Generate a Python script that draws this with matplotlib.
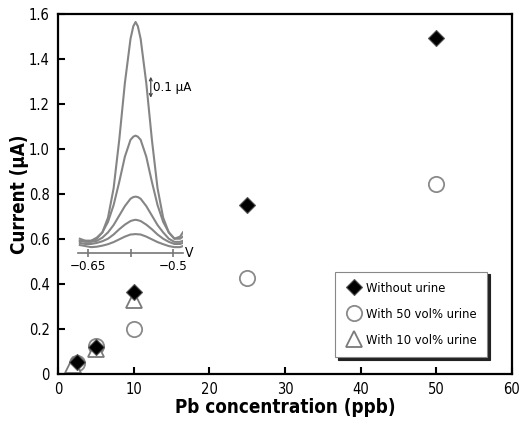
import numpy as np
import matplotlib
matplotlib.use("Agg")
import matplotlib.pyplot as plt
import matplotlib.font_manager as fm

# pick a narrow font if one is installed (reference uses a condensed face)
fonts = fm.fontManager.ttflist
names = {f.name for f in fonts}
stretch = 'normal'
if 'Liberation Sans Narrow' in names:
    family = 'Liberation Sans Narrow'
elif any(f.name == 'DejaVu Sans' and f.stretch in ('condensed', 'semi-condensed') for f in fonts):
    family = 'DejaVu Sans'
    stretch = 'condensed'
elif 'Roboto Condensed' in names:
    family = 'Roboto Condensed'
else:
    family = 'Liberation Sans'
plt.rcParams['font.family'] = [family, 'DejaVu Sans']
plt.rcParams['font.stretch'] = stretch

# main data (Pb concentration, ppb vs current, uA)
x_without = [2.5, 5, 10, 25, 50]
y_without = [0.053, 0.12, 0.365, 0.75, 1.493]
x_urine50 = [2.5, 5, 10, 25, 50]
y_urine50 = [0.05, 0.125, 0.20, 0.427, 0.845]
x_urine10 = [2, 5, 10]
y_urine10 = [0.04, 0.11, 0.33]

# inset voltammograms (V vs uA)
volts = [-0.665, -0.655, -0.645, -0.635, -0.625, -0.615, -0.605, -0.595, -0.585, -0.575,
         -0.570, -0.566, -0.562, -0.557, -0.547, -0.537, -0.527, -0.517, -0.507, -0.497,
         -0.487, -0.482]
curve1 = [0.03, 0.02, 0.02, 0.03, 0.06, 0.13, 0.27, 0.50, 0.77, 0.98,
          1.04, 1.06, 1.04, 0.98, 0.77, 0.50, 0.27, 0.13, 0.06, 0.03,
          0.03, 0.04]
curve2 = [0.02, 0.02, 0.02, 0.035, 0.06, 0.11, 0.19, 0.30, 0.42, 0.50,
          0.515, 0.52, 0.515, 0.50, 0.42, 0.30, 0.19, 0.11, 0.06, 0.03,
          0.04, 0.06]
curve3 = [0.02, 0.015, 0.015, 0.02, 0.035, 0.06, 0.095, 0.14, 0.185, 0.22,
          0.228, 0.23, 0.228, 0.22, 0.185, 0.14, 0.095, 0.06, 0.03, 0.015,
          0.015, 0.02]
curve4 = [0.01, 0.005, 0.005, 0.01, 0.018, 0.03, 0.05, 0.075, 0.097, 0.114,
          0.118, 0.12, 0.118, 0.114, 0.097, 0.075, 0.05, 0.03, 0.015, 0.005,
          0.005, 0.01]
curve5 = [0.0, -0.005, -0.01, -0.008, -0.003, 0.004, 0.014, 0.027, 0.04, 0.05,
          0.051, 0.052, 0.051, 0.05, 0.04, 0.027, 0.014, 0.004, -0.005, -0.01,
          -0.01, -0.005]

fig = plt.figure(figsize=(5.21, 4.34), dpi=100)
ax = fig.add_axes([0.1113, 0.138, 0.8714, 0.830])

ax.plot(x_urine50, y_urine50, 'o', ms=11, mfc='white', mec='#8a8a8a', mew=1.3,
        ls='none', label='With 50 vol% urine')
ax.plot(x_urine10, y_urine10, '^', ms=12, mfc='white', mec='#7a7a7a', mew=1.3,
        ls='none', label='With 10 vol% urine')
ax.plot(x_without, y_without, 'D', ms=8.5, mfc='black', mec='#555555', mew=0.8,
        ls='none', label='Without urine')

ax.set_xlim(0, 60)
ax.set_ylim(0, 1.6)
ax.set_xticks([0, 10, 20, 30, 40, 50, 60])
ax.set_yticks([0, 0.2, 0.4, 0.6, 0.8, 1.0, 1.2, 1.4, 1.6])
ax.set_yticklabels(['0', '0.2', '0.4', '0.6', '0.8', '1.0', '1.2', '1.4', '1.6'])
ax.tick_params(direction='in', length=5, width=1.5, labelsize=10.5, pad=6)
for s in ax.spines.values():
    s.set_linewidth(1.6)

ax.set_xlabel('Pb concentration (ppb)', fontsize=13.5, fontweight='bold', va='center')
ax.set_ylabel('Current (\u03bcA)', fontsize=13.5, fontweight='bold', va='center')
ax.xaxis.set_label_coords(0.5, -0.092)
ax.yaxis.set_label_coords(-0.084, 0.5)

h, l = ax.get_legend_handles_labels()
order = [2, 0, 1]
leg = ax.legend([h[i] for i in order], [l[i] for i in order],
                loc='lower right', bbox_to_anchor=(0.945, 0.047), borderaxespad=0,
                fancybox=False, shadow={'color': '#222222', 'alpha': 1.0},
                edgecolor='#888888', fontsize=9.3, labelspacing=1.0,
                handletextpad=0.3, borderpad=0.8, handlelength=1.3)
leg.get_frame().set_linewidth(0.8)

# inset
ins = fig.add_axes([0.150, 0.417, 0.201, 0.542])
for c in [curve1, curve2, curve3, curve4, curve5]:
    ins.plot(volts, c, color='#858585', lw=1.5)
ins.set_xlim(-0.668, -0.482)
ins.set_ylim(-0.038, 1.08)
ins.patch.set_alpha(0)
for side in ['top', 'right', 'left']:
    ins.spines[side].set_visible(False)
ins.spines['bottom'].set_color('#777777')
ins.spines['bottom'].set_linewidth(1.2)
ins.set_yticks([])
ins.set_xticks([-0.65, -0.575, -0.5])
ins.set_xticklabels(['\u22120.65', '', '\u22120.5'])
ins.tick_params(axis='x', direction='inout', length=6, width=1.2, color='#777777',
                labelsize=9.5, pad=2)
ins.text(1.02, 0, 'V', transform=ins.transAxes, fontsize=10, va='center', ha='left')
ins.annotate('', xy=(-0.539, 0.80), xytext=(-0.539, 0.70),
             arrowprops=dict(arrowstyle='<->', color='#444444', lw=0.9,
                             mutation_scale=5, shrinkA=0, shrinkB=0))
ins.text(-0.535, 0.75, '0.1 \u03bcA', fontsize=9.5, va='center', ha='left')

fig.savefig('out.png', dpi=100)
